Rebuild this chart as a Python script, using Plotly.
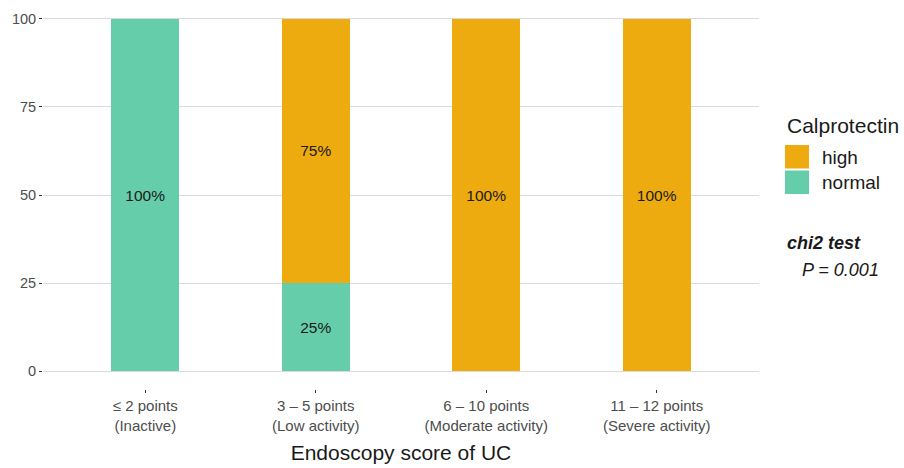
import plotly.graph_objects as go

# Endoscopy score groups and calprotectin shares (%)
categories = ["≤ 2 points<br>(Inactive)", "3 – 5 points<br>(Low activity)",
              "6 – 10 points<br>(Moderate activity)", "11 – 12 points<br>(Severe activity)"]
normal_pct = [100, 25, 0, 0]
high_pct = [0, 75, 100, 100]
series_names = ["high", "normal"]
colors = {"high": "#EDAB10", "normal": "#66CDAA"}
test_name = "chi2 test"
p_value = "0.001"

FONT = "Liberation Sans, Arial, sans-serif"
W, H = 904, 468
ML, MR, MT, MB = 43, 145, 1, 79
PW, PH = W - ML - MR, H - MT - MB


def px_x(x):
    return (x - ML) / PW


def px_y(y):
    return (H - MB - y) / PH


def labels(vals):
    return [f"{v}%" if v > 0 else "" for v in vals]


fig = go.Figure()
for name, vals in [("normal", normal_pct), ("high", high_pct)]:
    fig.add_trace(go.Bar(
        x=list(range(len(categories))), y=vals, name=name,
        marker=dict(color=colors[name], line=dict(width=0)),
        width=0.4,
        text=labels(vals), textposition="inside", insidetextanchor="middle",
        textfont=dict(family=FONT, size=15.5, color="#1a1a1a"),
        textangle=0, showlegend=False,
    ))

fig.update_layout(
    barmode="stack",
    width=W, height=H,
    margin=dict(l=ML, r=MR, t=MT, b=MB),
    plot_bgcolor="white", paper_bgcolor="white",
    font=dict(family=FONT),
    uniformtext=dict(mode=False),
    xaxis=dict(
        tickmode="array", tickvals=list(range(len(categories))), ticktext=categories,
        range=[-0.6, len(categories) - 0.4],
        showgrid=False, zeroline=False, showline=False,
        ticks="outside", ticklen=3, tickcolor="#333333", tickwidth=1,
        tickfont=dict(family=FONT, size=15, color="#4D4D4D"),
        title=dict(text="Endoscopy score of UC", font=dict(family=FONT, size=21, color="#1a1a1a"),
                   standoff=12),
    ),
    yaxis=dict(
        range=[-5, 105], tickvals=[0, 25, 50, 75, 100],
        showgrid=True, gridcolor="#DADADA", gridwidth=1, zeroline=False, showline=False,
        ticks="outside", ticklen=3, tickcolor="#333333", tickwidth=1,
        tickfont=dict(family=FONT, size=14.5, color="#4D4D4D"),
    ),
)

# Legend: title, square keys and labels
LX = px_x(785)
fig.add_annotation(xref="paper", yref="paper", x=LX, y=px_y(126),
                   text="Calprotectin", showarrow=False, xanchor="left", yanchor="middle",
                   font=dict(family=FONT, size=21, color="#1a1a1a"))
key_tops = [145, 170.5]
for name, top in zip(series_names, key_tops):
    fig.add_shape(type="rect", xref="paper", yref="paper",
                  x0=LX, x1=px_x(809),
                  y0=px_y(top + 23.5), y1=px_y(top),
                  fillcolor=colors[name], line=dict(width=0))
    fig.add_annotation(xref="paper", yref="paper", x=px_x(820),
                       y=px_y(top + 12),
                       text=name, showarrow=False, xanchor="left", yanchor="middle",
                       font=dict(family=FONT, size=19, color="#1a1a1a"))

fig.add_annotation(xref="paper", yref="paper", x=LX, y=px_y(243),
                   text=f"<b><i>{test_name}</i></b>", showarrow=False,
                   xanchor="left", yanchor="middle",
                   font=dict(family=FONT, size=18, color="#1a1a1a"))
fig.add_annotation(xref="paper", yref="paper", x=px_x(800), y=px_y(270),
                   text=f"<i>P = {p_value}</i>", showarrow=False,
                   xanchor="left", yanchor="middle",
                   font=dict(family=FONT, size=18, color="#1a1a1a"))

fig.write_html("out.html")
